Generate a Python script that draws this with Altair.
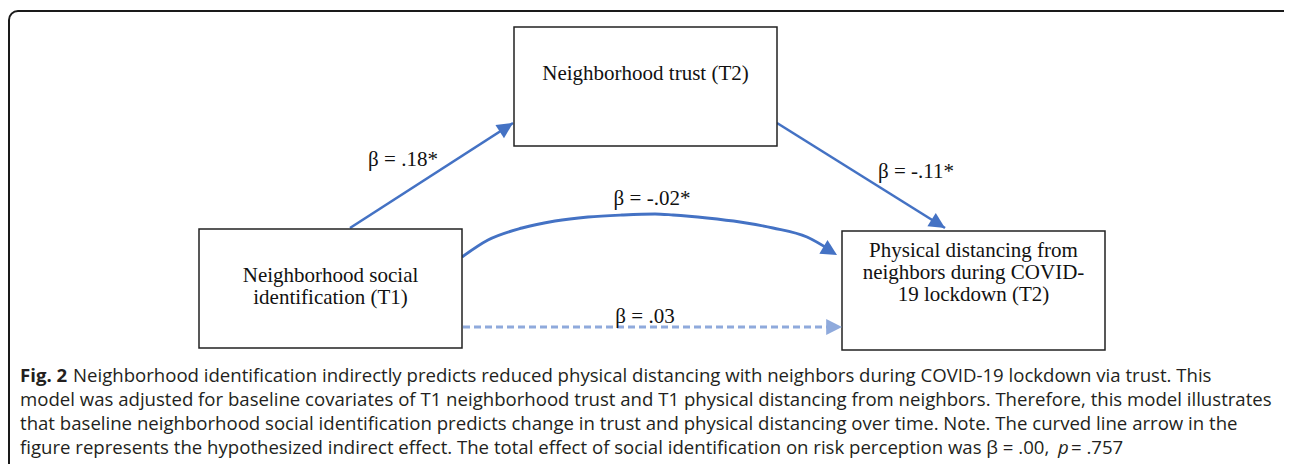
import math
import altair as alt
import pandas as pd

# ---------------- content ----------------
box_id = ["trust", "identification", "distancing"]
box_text = [
    ["Neighborhood trust (T2)"],
    ["Neighborhood social", "identification (T1)"],
    ["Physical distancing from", "neighbors during COVID-", "19 lockdown (T2)"],
]
path_labels = ["β = .18*", "β = -.11*", "β = -.02*", "β = .03"]
caption_lines = [
    "Neighborhood identification indirectly predicts reduced physical distancing with neighbors during COVID-19 lockdown via trust. This",
    "model was adjusted for baseline covariates of T1 neighborhood trust and T1 physical distancing from neighbors. Therefore, this model illustrates",
    "that baseline neighborhood social identification predicts change in trust and physical distancing over time. Note. The curved line arrow in the",
    "figure represents the hypothesized indirect effect. The total effect of social identification on risk perception was β = .00,",
]
caption_bold = "Fig. 2"
caption_italic = "p"
caption_tail = "= .757"

# ---------------- layout (page pixels) ----------------
box_x1 = [514, 199, 842]
box_x2 = [777, 462, 1105]
box_y1 = [27, 229, 231]
box_y2 = [146, 348, 350]
box_text_y = [[74], [276, 298], [251, 273, 295]]

# straight paths: start -> tip
edge_a_x = [350, 513]
edge_a_y = [228, 123]
edge_b_x = [777, 945]
edge_b_y = [123, 228]
# curved path
curve_x = [462, 488, 522, 555, 588, 622, 655, 673, 707, 740, 773, 807, 830]
curve_y = [257, 240, 228, 221, 217, 215, 214, 215, 218, 222, 228, 237, 250]
curve_tip = (837, 255)
# dashed direct path
dash_x = [463, 836]
dash_y = [327, 327]
dash_tip = (842, 327)

label_x = [403, 916, 652, 645]
label_y = [160, 172, 199, 317]

cap_x = 20
cap_rest_x = 73
cap_y = [376, 400, 424, 448]
cap_p_x = 1058
cap_tail_x = 1071

BLUE = "#4472C4"
LIGHT = "#8FAADC"
SERIF = "Liberation Serif"
SANS = "Open Sans"
CAP_SIZE = 18.6

W, H = 1276, 456
X = lambda f="x": alt.X(f"{f}:Q", scale=alt.Scale(domain=[8, 8 + W], nice=False, zero=False), axis=None)
Y = lambda f="y": alt.Y(f"{f}:Q", scale=alt.Scale(domain=[8, 8 + H], nice=False, zero=False, reverse=True), axis=None)

# outer frame
frame_df = pd.DataFrame({"x": [9], "x2": [1300], "y": [11], "y2": [500]})
frame = alt.Chart(frame_df).mark_rect(
    fill=None, stroke="#1a1a1a", strokeWidth=2, cornerRadius=9, clip=True
).encode(x=X("x"), x2="x2:Q", y=Y("y"), y2="y2:Q")

# boxes
boxes_df = pd.DataFrame({"id": box_id, "x": box_x1, "x2": box_x2, "y": box_y1, "y2": box_y2})
boxes = alt.Chart(boxes_df).mark_rect(
    fill="white", stroke="#222222", strokeWidth=1.5
).encode(x=X("x"), x2="x2:Q", y=Y("y"), y2="y2:Q")

# box texts
rows = []
for i, lines in enumerate(box_text):
    cx = (box_x1[i] + box_x2[i]) / 2
    for j, t in enumerate(lines):
        rows.append({"x": cx, "y": box_text_y[i][j], "t": t})
box_txt = alt.Chart(pd.DataFrame(rows)).mark_text(
    font=SERIF, fontSize=21, color="#111111", align="center", baseline="middle"
).encode(x=X(), y=Y(), text="t:N")

# straight arrows
straight_df = pd.DataFrame({
    "edge": ["a", "a", "b", "b"],
    "o": [0, 1, 0, 1],
    "x": edge_a_x + edge_b_x,
    "y": edge_a_y + edge_b_y,
})
straight = alt.Chart(straight_df).mark_line(color=BLUE, strokeWidth=2.6).encode(
    x=X(), y=Y(), detail="edge:N", order="o:Q")

curve_df = pd.DataFrame({"x": curve_x, "y": curve_y, "o": list(range(len(curve_x)))})
curve = alt.Chart(curve_df).mark_line(color=BLUE, strokeWidth=2.9, interpolate="monotone").encode(
    x=X(), y=Y(), order="o:Q")

dash_df = pd.DataFrame({"x": dash_x, "y": dash_y})
dashed = alt.Chart(dash_df).mark_line(color=LIGHT, strokeWidth=2.8, strokeDash=[7, 4]).encode(
    x=X(), y=Y())

def heading(x0, y0, x1, y1):
    return (math.degrees(math.atan2(x1 - x0, -(y1 - y0))) + 360) % 360

head_path = "M0,0L-0.5,1L0.5,1Z"
heads_df = pd.DataFrame({
    "x": [edge_a_x[1], edge_b_x[1], curve_tip[0], dash_tip[0]],
    "y": [edge_a_y[1], edge_b_y[1], curve_tip[1], dash_tip[1]],
    "ang": [
        heading(edge_a_x[0], edge_a_y[0], edge_a_x[1], edge_a_y[1]),
        heading(edge_b_x[0], edge_b_y[0], edge_b_x[1], edge_b_y[1]),
        heading(curve_x[-2], curve_y[-2], curve_tip[0], curve_tip[1]),
        90.0,
    ],
    "c": [BLUE, BLUE, BLUE, LIGHT],
})
heads = alt.Chart(heads_df).mark_point(shape=head_path, filled=True, opacity=1, size=1000, strokeWidth=0).encode(
    x=X(), y=Y(), angle=alt.Angle("ang:Q", scale=None), color=alt.Color("c:N", scale=None))

labels_df = pd.DataFrame({"x": label_x, "y": label_y, "t": path_labels})
labels = alt.Chart(labels_df).mark_text(
    font=SERIF, fontSize=21, color="#111111", align="center", baseline="middle"
).encode(x=X(), y=Y(), text="t:N")

# caption
cap_df = pd.DataFrame({
    "x": [cap_rest_x, cap_x, cap_x, cap_x],
    "y": cap_y,
    "t": caption_lines,
})
cap = alt.Chart(cap_df).mark_text(
    font=SANS, fontSize=CAP_SIZE, color="#231f20", align="left", baseline="middle"
).encode(x=X(), y=Y(), text="t:N")
cap_b = alt.Chart(pd.DataFrame({"x": [cap_x], "y": [cap_y[0]], "t": [caption_bold]})).mark_text(
    font=SANS, fontSize=CAP_SIZE, fontWeight="bold", color="#231f20", align="left", baseline="middle"
).encode(x=X(), y=Y(), text="t:N")
cap_i = alt.Chart(pd.DataFrame({"x": [cap_p_x], "y": [cap_y[3]], "t": [caption_italic]})).mark_text(
    font=SANS, fontSize=CAP_SIZE, fontStyle="italic", color="#231f20", align="left", baseline="middle"
).encode(x=X(), y=Y(), text="t:N")
cap_t = alt.Chart(pd.DataFrame({"x": [cap_tail_x], "y": [cap_y[3]], "t": [caption_tail]})).mark_text(
    font=SANS, fontSize=CAP_SIZE, color="#231f20", align="left", baseline="middle"
).encode(x=X(), y=Y(), text="t:N")

chart = alt.layer(
    frame, straight, curve, dashed, boxes, heads, box_txt, labels, cap, cap_b, cap_i, cap_t
).properties(
    width=W, height=H, padding=0, autosize="none", background="white"
).configure_view(stroke=None)

chart.save("out.html", embed_options={"renderer": "svg", "actions": False})
